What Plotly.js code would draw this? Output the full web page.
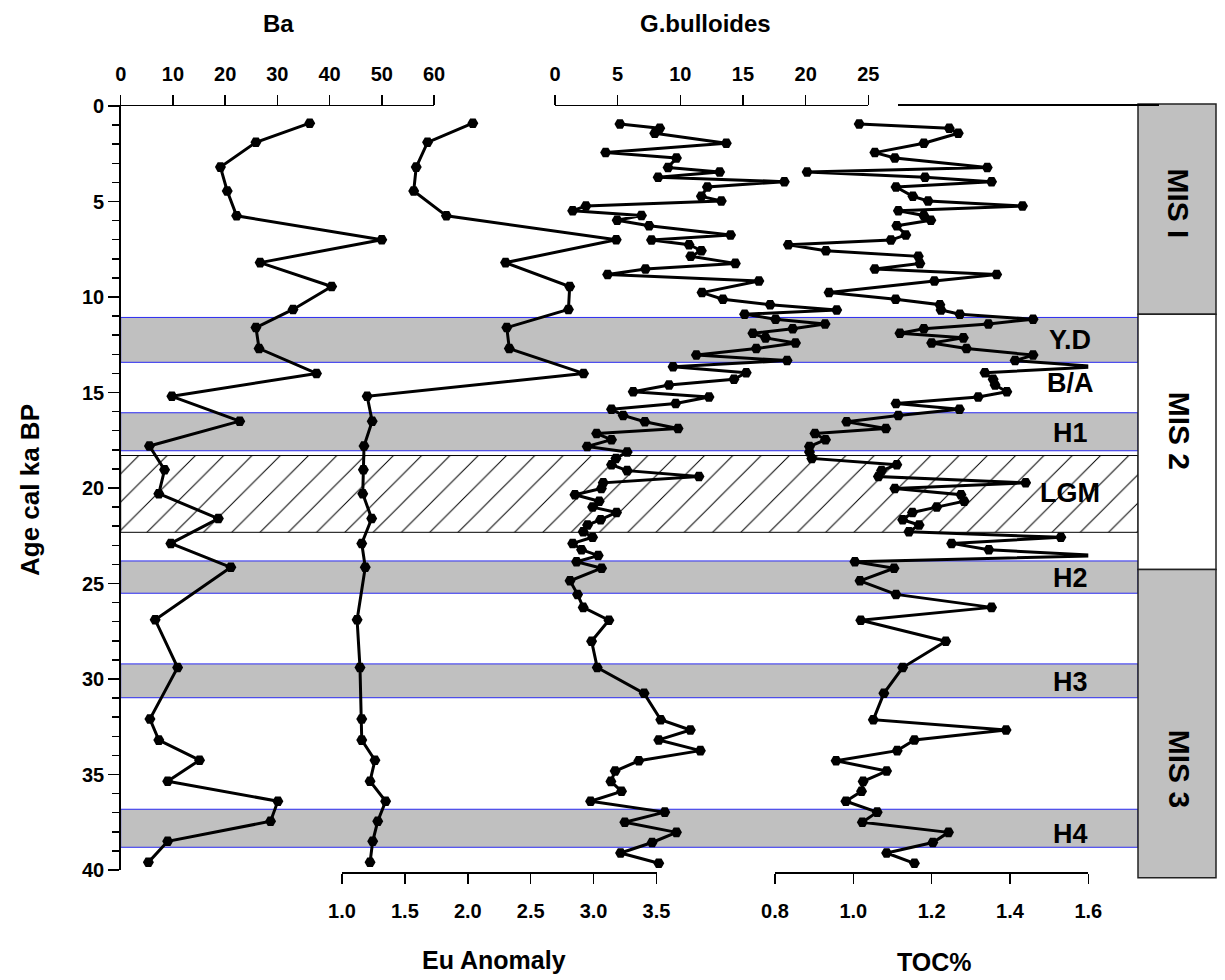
<!DOCTYPE html>
<html>
<head>
<meta charset="utf-8">
<script src="https://cdn.plot.ly/plotly-3.0.1.min.js"></script>
<style>html,body{margin:0;padding:0;background:#fff;}#chart{width:1225px;height:980px;}</style>
</head>
<body>
<div id="chart"></div>
<script>
// ---------- data ----------
const ageCoarse = [0.9, 1.9, 3.2, 4.45, 5.75, 7.0, 8.2, 9.45, 10.65, 11.6, 12.7, 14.0, 15.2, 16.5, 17.8, 19.05, 20.3, 21.6, 22.9, 24.15, 26.9, 29.4, 32.1, 33.2, 34.25, 35.35, 36.4, 37.45, 38.5, 39.6];
const ba = [36.2, 25.9, 19.1, 20.4, 22.2, 50.0, 26.7, 40.4, 33.0, 25.9, 26.5, 37.5, 9.8, 22.8, 5.5, 8.4, 7.3, 18.7, 9.6, 21.1, 6.6, 10.9, 5.6, 7.3, 15.1, 9.0, 30.1, 28.7, 9.0, 5.3];
const euAnomaly = [2.04, 1.68, 1.59, 1.57, 1.83, 3.18, 2.30, 2.81, 2.80, 2.31, 2.33, 2.92, 1.20, 1.24, 1.175, 1.17, 1.165, 1.236, 1.157, 1.185, 1.12, 1.143, 1.157, 1.157, 1.262, 1.223, 1.347, 1.284, 1.244, 1.223];

const ageFine = [
  0.94, 1.17, 1.43, 1.95, 2.44, 2.72, 3.22, 3.45, 3.73, 3.96,
  4.24, 4.73, 4.97, 5.24, 5.48, 5.73, 5.98, 6.27, 6.75, 7.02,
  7.26, 7.58, 7.87, 8.24, 8.53, 8.82, 9.16, 9.77, 10.12, 10.4,
  10.68, 10.9, 11.16, 11.41, 11.66, 11.9, 12.14, 12.41, 12.7, 13.04,
  13.33, 13.65, 13.96, 14.31, 14.61, 14.96, 15.24, 15.57, 15.88, 16.2,
  16.53, 16.88, 17.15, 17.47, 17.83, 18.11, 18.45, 18.78, 19.09, 19.4,
  19.73, 20.03, 20.35, 20.69, 21.0, 21.28, 21.66, 21.94, 22.29, 22.58,
  22.9, 23.23, 23.54, 23.86, 24.2, 24.86, 25.57, 26.25, 26.92, 28.02,
  29.4, 30.75, 32.13, 32.67, 33.19, 33.75, 34.28, 34.82, 35.36, 35.88,
  36.4, 36.97, 37.5, 38.03, 38.56, 39.11, 39.65
];
const gBulloides = [
  5.18, 8.36, 7.96, 13.67, 4.04, 9.69, 9.02, 13.14, 8.23, 18.3,
  12.16, 11.68, 13.27, 2.47, 1.41, 6.9, 4.96, 7.51, 14.01, 7.7,
  10.7, 11.68, 10.83, 14.39, 7.22, 4.2, 16.27, 11.73, 13.4, 17.17,
  22.48, 15.13, 17.6, 21.55, 18.97, 15.79, 16.8, 19.19, 16.06, 11.28,
  18.52, 9.42, 15.26, 14.28, 9.1, 6.24, 12.29, 9.63, 4.51, 5.44,
  7.17, 9.82, 3.32, 4.51, 2.57, 5.76, 4.86, 4.51, 5.76, 11.49,
  3.85, 3.7, 1.59, 3.53, 3.0, 4.91, 3.64, 2.6, 2.25, 3.0,
  1.41, 2.12, 3.45, 1.72, 3.72, 1.2, 1.8, 2.25, 4.3, 2.92,
  3.37, 7.11, 8.44, 10.8, 8.28, 11.6, 6.69, 4.8, 4.46, 5.31,
  2.84, 8.76, 5.57, 9.69, 7.75, 5.23, 8.28
];
const toc = [
  1.015, 1.245, 1.268, 1.180, 1.055, 1.106, 1.342, 0.882, 1.183, 1.353,
  1.109, 1.152, 1.191, 1.432, 1.115, 1.180, 1.198, 1.111, 1.134, 1.096,
  0.834, 0.930, 1.166, 1.170, 1.055, 1.366, 1.207, 0.938, 1.108, 1.221,
  1.224, 1.272, 1.459, 1.345, 1.180, 1.119, 1.281, 1.200, 1.289, 1.459,
  1.413, 1.63, 1.336, 1.357, 1.362, 1.392, 1.319, 1.109, 1.271, 1.115,
  0.983, 1.083, 0.902, 0.929, 0.888, 0.888, 0.894, 1.111, 1.072, 1.064,
  1.44, 1.106, 1.275, 1.283, 1.213, 1.151, 1.126, 1.168, 1.142, 1.530,
  1.251, 1.346, 1.63, 1.004, 1.104, 1.017, 1.109, 1.353, 1.019, 1.236,
  1.126, 1.078, 1.051, 1.390, 1.156, 1.112, 0.956, 1.085, 1.025, 1.021,
  0.981, 1.061, 1.023, 1.243, 1.203, 1.085, 1.156
];

// event bands (ages, ka)
const bandTop    = [11.07, 16.06, 23.82, 29.21, 36.82];
const bandBottom = [13.42, 18.05, 25.51, 30.98, 38.81];
const lgmBand = [18.3, 22.32];
const eventLabels = ['Y.D', 'B/A', 'H1', 'LGM', 'H2', 'H3', 'H4'];
const eventLabelAge = [12.25, 14.5, 17.12, 20.26, 24.71, 30.14, 38.12];

// marine isotope stages
const misNames  = ['MIS I', 'MIS 2', 'MIS 3'];
const misTop    = [-0.1, 10.9, 24.27];
const misBottom = [10.9, 24.27, 40.4];
const misLabelAge = [5.1, 17.0, 34.7];

const yTicks = [0, 5, 10, 15, 20, 25, 30, 35, 40];
const baTicks = [0, 10, 20, 30, 40, 50, 60];
const euTicks = [1.0, 1.5, 2.0, 2.5, 3.0, 3.5];
const gbTicks = [0, 5, 10, 15, 20, 25];
const tocTicks = [0.8, 1.0, 1.2, 1.4, 1.6];

// ---------- layout helpers ----------
const W = 1225, H = 980;
const px = v => v / W;
const py = v => 1 - v / H;
// y-axis geometry (pixels): age 0 at 106, age 40 at 870
const Y0 = 106, Y40 = 870;
const ageToPaper = a => py(Y0 + (Y40 - Y0) * a / 40);
const FONT = 'Liberation Sans, Arial, sans-serif';
const bold = (s) => ({family: FONT, size: s, color: '#000', weight: 700});

const traces = [];
bandTop.forEach((t, i) => {
  traces.push({
    type: 'scatter', mode: 'lines', xaxis: 'x', yaxis: 'y',
    x: [0, 1, 1, 0, 0], y: [t, t, bandBottom[i], bandBottom[i], t],
    fill: 'toself', fillcolor: '#c0c0c0',
    line: {color: '#2a2af0', width: 1}, hoverinfo: 'skip'
  });
});
traces.push({
  type: 'scatter', mode: 'lines', xaxis: 'x', yaxis: 'y',
  x: [0, 1, 1, 0, 0], y: [lgmBand[0], lgmBand[0], lgmBand[1], lgmBand[1], lgmBand[0]],
  fill: 'toself', fillcolor: '#ffffff',
  fillpattern: {shape: '/', size: 20, solidity: 0.05, fgcolor: '#000', bgcolor: '#fff'},
  line: {color: '#000', width: 1}, hoverinfo: 'skip'
});

const mk = {symbol: 'hexagon2', size: 11, color: '#000'};
const ln = {color: '#000', width: 3};
traces.push({type: 'scatter', mode: 'lines+markers', xaxis: 'x2', yaxis: 'y', x: ba, y: ageCoarse, marker: mk, line: ln});
traces.push({type: 'scatter', mode: 'lines+markers', xaxis: 'x3', yaxis: 'y', x: euAnomaly, y: ageCoarse, marker: mk, line: ln});
traces.push({type: 'scatter', mode: 'lines+markers', xaxis: 'x4', yaxis: 'y', x: gBulloides, y: ageFine, marker: mk, line: ln});
traces.push({type: 'scatter', mode: 'lines+markers', xaxis: 'x5', yaxis: 'y', x: toc, y: ageFine, marker: mk, line: ln});

const axBase = {
  showgrid: false, zeroline: false, showline: true, linecolor: '#000', linewidth: 1.5,
  ticks: 'outside', ticklen: 10, tickwidth: 1.5, tickcolor: '#000',
  tickfont: bold(20), fixedrange: true
};

const shapes = [];
misNames.forEach((n, i) => {
  shapes.push({
    type: 'rect', xref: 'paper', yref: 'paper', x0: px(1138), x1: px(1216),
    y0: ageToPaper(misTop[i]), y1: ageToPaper(misBottom[i]),
    fillcolor: i === 1 ? '#ffffff' : '#c0c0c0',
    line: {color: '#222', width: 1.5}, layer: 'above'
  });
});
shapes.push({type: 'line', xref: 'paper', yref: 'paper', x0: px(898), x1: px(1159), y0: py(105), y1: py(105), line: {color: '#000', width: 2}});

const annotations = [
  {text: 'Ba', x: px(278), y: py(24), font: bold(24)},
  {text: 'G.bulloides', x: px(705), y: py(24), font: bold(24)},
  {text: 'Eu Anomaly', x: px(494), y: py(960), font: bold(25)},
  {text: 'TOC%', x: px(934), y: py(962), font: bold(25)},
  {text: 'Age cal ka BP', x: px(30), y: py(490), textangle: -90, font: bold(26)}
].map(a => Object.assign({xref: 'paper', yref: 'paper', showarrow: false, xanchor: 'center', yanchor: 'middle'}, a));

eventLabels.forEach((t, i) => {
  annotations.push({text: t, xref: 'paper', yref: 'y', x: px(1070), y: eventLabelAge[i], showarrow: false, font: bold(27), xanchor: 'center', yanchor: 'middle'});
});
misNames.forEach((t, i) => {
  annotations.push({text: t, xref: 'paper', yref: 'y', x: px(1179), y: misLabelAge[i], showarrow: false, font: bold(30), textangle: 90, xanchor: 'center', yanchor: 'middle'});
});

const layout = {
  width: W, height: H,
  margin: {l: 0, r: 0, t: 0, b: 0},
  paper_bgcolor: '#fff', plot_bgcolor: 'rgba(0,0,0,0)',
  showlegend: false,
  xaxis: {domain: [px(120.7), px(1138)], range: [0, 1], visible: false, anchor: 'y', fixedrange: true},
  yaxis: Object.assign({}, axBase, {
    domain: [py(Y40), py(Y0)], range: [40, 0], anchor: 'x',
    tickvals: yTicks, ticklen: 11,
    minor: {dtick: 1, ticks: 'outside', ticklen: 7, tickwidth: 1.5, tickcolor: '#000'}
  }),
  xaxis2: Object.assign({}, axBase, {domain: [px(120.7), px(434)], range: [0, 60], side: 'top', anchor: 'y', tickvals: baTicks, ticklabelstandoff: 6}),
  xaxis3: Object.assign({}, axBase, {domain: [px(342), px(656.5)], range: [1, 3.5], side: 'bottom', anchor: 'free', position: py(872), tickvals: euTicks, tickformat: '.1f', ticklabelstandoff: 10}),
  xaxis4: Object.assign({}, axBase, {domain: [px(555), px(868.3)], range: [0, 25], side: 'top', anchor: 'y', tickvals: gbTicks, ticklabelstandoff: 6}),
  xaxis5: Object.assign({}, axBase, {domain: [px(775), px(1088.3)], range: [0.8, 1.6], side: 'bottom', anchor: 'free', position: py(872), tickvals: tocTicks, tickformat: '.1f', ticklabelstandoff: 10}),
  shapes: shapes,
  annotations: annotations
};

Plotly.newPlot('chart', traces, layout, {displayModeBar: false, staticPlot: true});
</script>
</body>
</html>
